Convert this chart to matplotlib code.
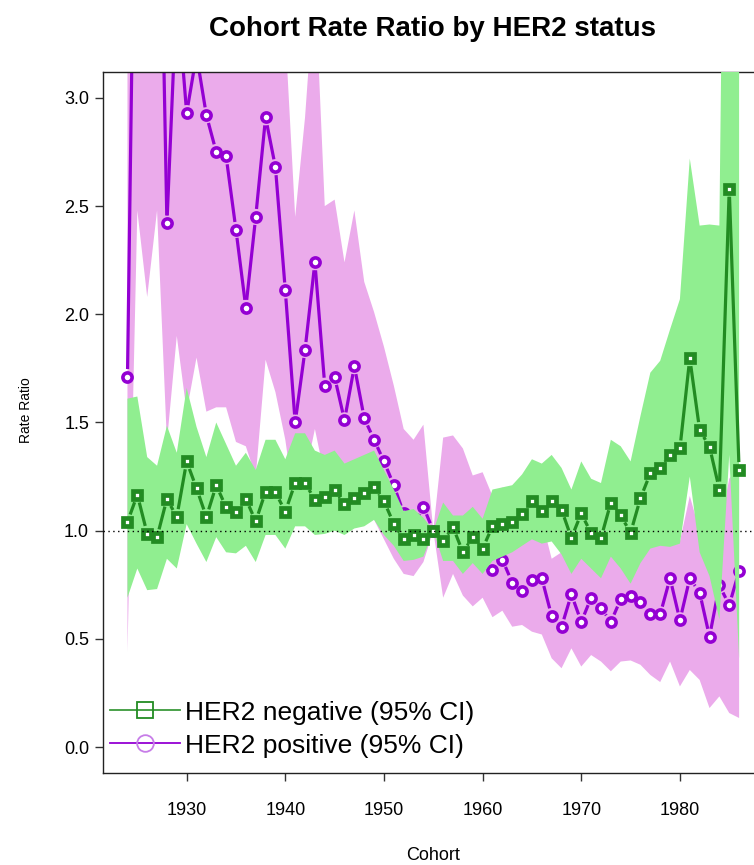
import numpy as np
import matplotlib
matplotlib.use("Agg")
import matplotlib.pyplot as plt
from matplotlib.collections import LineCollection
from matplotlib.lines import Line2D

plt.rcParams['font.family'] = ['Liberation Sans', 'DejaVu Sans']

cohort = np.arange(1924, 1987)

# HER2 negative: rate ratio with 95% CI
neg_rr = [1.04, 1.166, 0.986, 0.97, 1.147, 1.063, 1.32, 1.196, 1.063, 1.21,
          1.108, 1.088, 1.147, 1.043, 1.18, 1.177, 1.088, 1.22, 1.22, 1.143,
          1.155, 1.189, 1.121, 1.152, 1.173, 1.20, 1.136, 1.032, 0.96, 0.98,
          0.96, 1.00, 0.951, 1.016, 0.90, 0.97, 0.917, 1.02, 1.029, 1.04,
          1.078, 1.136, 1.09, 1.136, 1.097, 0.966, 1.08, 0.988, 0.966, 1.13,
          1.07, 0.99, 1.15, 1.265, 1.288, 1.35, 1.38, 1.797, 1.465, 1.388,
          1.19, 2.58, 1.28]
neg_lo = [0.69, 0.825, 0.725, 0.73, 0.87, 0.825, 1.03, 0.94, 0.855, 0.97,
          0.90, 0.895, 0.93, 0.855, 0.98, 0.98, 0.917, 1.02, 1.02, 0.98,
          0.985, 1.00, 0.98, 1.01, 1.02, 1.05, 0.98, 0.93, 0.86, 0.865,
          0.88, 1.00, 0.86, 0.86, 0.80, 0.85, 0.80, 0.86, 0.88, 0.90,
          0.93, 0.96, 0.94, 0.95, 0.89, 0.80, 0.87, 0.825, 0.78, 0.88,
          0.825, 0.755, 0.85, 0.917, 0.93, 0.925, 0.94, 1.25, 0.90, 0.79,
          0.59, 1.35, 0.41]
neg_hi = [1.61, 1.62, 1.34, 1.30, 1.485, 1.36, 1.66, 1.48, 1.34, 1.50,
          1.40, 1.30, 1.36, 1.28, 1.42, 1.42, 1.33, 1.45, 1.45, 1.37,
          1.35, 1.37, 1.31, 1.33, 1.35, 1.37, 1.28, 1.19, 1.09, 1.10,
          1.06, 1.00, 1.13, 1.07, 1.07, 1.11, 1.055, 1.19, 1.20, 1.21,
          1.26, 1.33, 1.31, 1.35, 1.29, 1.19, 1.32, 1.24, 1.22, 1.42,
          1.39, 1.32, 1.53, 1.73, 1.785, 1.93, 2.07, 2.72, 2.41, 2.415,
          2.41, 6.5, 6.8]

# HER2 positive: rate ratio with 95% CI
pos_rr = [1.71, 5.0, 6.0, 4.8, 2.42, 3.5, 2.93, 3.2, 2.92, 2.75,
          2.73, 2.39, 2.03, 2.45, 2.91, 2.68, 2.11, 1.50, 1.835, 2.24,
          1.67, 1.71, 1.51, 1.76, 1.52, 1.42, 1.32, 1.21, 1.08, 1.02,
          1.11, 1.00, 1.02, 1.04, 0.98, 0.95, 0.92, 0.82, 0.866, 0.76,
          0.72, 0.77, 0.78, 0.605, 0.555, 0.706, 0.578, 0.69, 0.643, 0.578,
          0.683, 0.70, 0.67, 0.617, 0.613, 0.78, 0.586, 0.78, 0.714, 0.51,
          0.747, 0.656, 0.814]
pos_lo = [0.44, 2.48, 2.08, 2.48, 1.41, 1.90, 1.55, 1.80, 1.55, 1.57,
          1.57, 1.41, 1.39, 1.25, 1.79, 1.64, 1.42, 1.10, 1.25, 1.47,
          1.25, 1.25, 1.20, 1.22, 1.15, 1.05, 0.96, 0.87, 0.80, 0.79,
          0.855, 1.00, 0.69, 0.80, 0.70, 0.65, 0.69, 0.60, 0.63, 0.556,
          0.564, 0.533, 0.52, 0.41, 0.364, 0.456, 0.372, 0.425, 0.395, 0.35,
          0.395, 0.40, 0.38, 0.333, 0.30, 0.395, 0.28, 0.356, 0.31, 0.18,
          0.234, 0.157, 0.134]
pos_hi = [8.0, 9.0, 9.5, 8.0, 5.0, 6.0, 5.0, 5.5, 5.0, 4.6,
          4.5, 4.2, 3.8, 4.0, 4.5, 4.2, 3.30, 2.45, 2.91, 3.55,
          2.50, 2.53, 2.24, 2.48, 2.15, 2.01, 1.85, 1.67, 1.47, 1.42,
          1.49, 1.00, 1.43, 1.44, 1.38, 1.255, 1.27, 1.16, 1.20, 1.15,
          1.10, 1.12, 1.05, 0.87, 0.90, 1.00, 1.00, 1.00, 1.00, 1.05,
          1.00, 1.00, 1.00, 1.05, 1.05, 1.05, 0.95, 1.16, 1.00, 1.00,
          1.00, 1.24, 1.30]

xticks = [1930, 1940, 1950, 1960, 1970, 1980]
yticks = [0.0, 0.5, 1.0, 1.5, 2.0, 2.5, 3.0]

GREEN = '#228B22'
PURPLE = '#9400D3'
GREEN_CI = '#90EE90'
PINK_CI = '#EBABEB'

fig = plt.figure(figsize=(7.54, 8.65), dpi=100)
ax = fig.add_axes([0.1366, 0.1064, 0.8761, 0.8104])
ax.set_xlim(1921.52, 1988.48)
ax.set_ylim(-0.12, 3.12)


def gapped_line(ax, x, y, gap, **kw):
    # connect points but leave a gap of `gap` pixels round each point
    pts = ax.transData.transform(np.column_stack([x, y]))
    inv = ax.transData.inverted()
    segs = []
    for p, q in zip(pts[:-1], pts[1:]):
        d = q - p
        n = np.hypot(d[0], d[1])
        if n <= 2 * gap:
            continue
        u = d / n
        segs.append(inv.transform([p + u * gap, q - u * gap]))
    ax.add_collection(LineCollection(segs, **kw))


ax.fill_between(cohort, pos_lo, pos_hi, color=PINK_CI, lw=0, zorder=1)
gapped_line(ax, cohort, pos_rr, 8, colors=PURPLE, linewidths=2.3, zorder=2)
ax.plot(cohort, pos_rr, ls='none', marker='o', ms=6.6, mew=2.6,
        mec=PURPLE, mfc='white', zorder=3)

ax.fill_between(cohort, neg_lo, neg_hi, color=GREEN_CI, lw=0, zorder=4)
gapped_line(ax, cohort, neg_rr, 8, colors=GREEN, linewidths=2.3, zorder=5)
ax.plot(cohort, neg_rr, ls='none', marker='s', ms=6.0, mew=3.4,
        mec=GREEN, mfc='white', zorder=6)

ax.axhline(1.0, color='black', ls=(0, (1, 2.5)), lw=1.0, zorder=7)

ax.set_xticks(xticks)
ax.set_xticklabels([str(t) for t in xticks])
ax.set_yticks(yticks)
ax.set_yticklabels(['%.1f' % t for t in yticks])
ax.tick_params(axis='both', direction='out', length=6, width=1,
               labelsize=13, color='#333333')
ax.tick_params(axis='x', pad=15)
ax.tick_params(axis='y', pad=4)
for s in ax.spines.values():
    s.set_linewidth(1.0)
    s.set_color('#222222')

handles = [
    Line2D([], [], color='#3C9A3C', lw=1.3, marker='s', ms=11, mfc='none',
           mec=GREEN, mew=1.3),
    Line2D([], [], color=PURPLE, lw=1.3, marker='o', ms=12, mfc='none',
           mec='#C77DE8', mew=1.3),
]
ax.legend(handles, ['HER2 negative (95% CI)', 'HER2 positive (95% CI)'],
          loc='lower left', bbox_to_anchor=(0.0106, 0.022), frameon=False,
          fontsize=19, handlelength=2.65, handletextpad=0.2,
          labelspacing=0.34, borderpad=0, borderaxespad=0)

fig.text(0.574, 0.967, 'Cohort Rate Ratio by HER2 status', ha='center',
         va='center', fontsize=20, fontweight='bold')
fig.text(26 / 754, 1 - 410 / 865, 'Rate Ratio', ha='center', va='center',
         rotation=90, fontsize=10)
fig.text(0.574, 1 - 855 / 865, 'Cohort', ha='center', va='center',
         fontsize=13)

fig.savefig('out.png', dpi=100)
